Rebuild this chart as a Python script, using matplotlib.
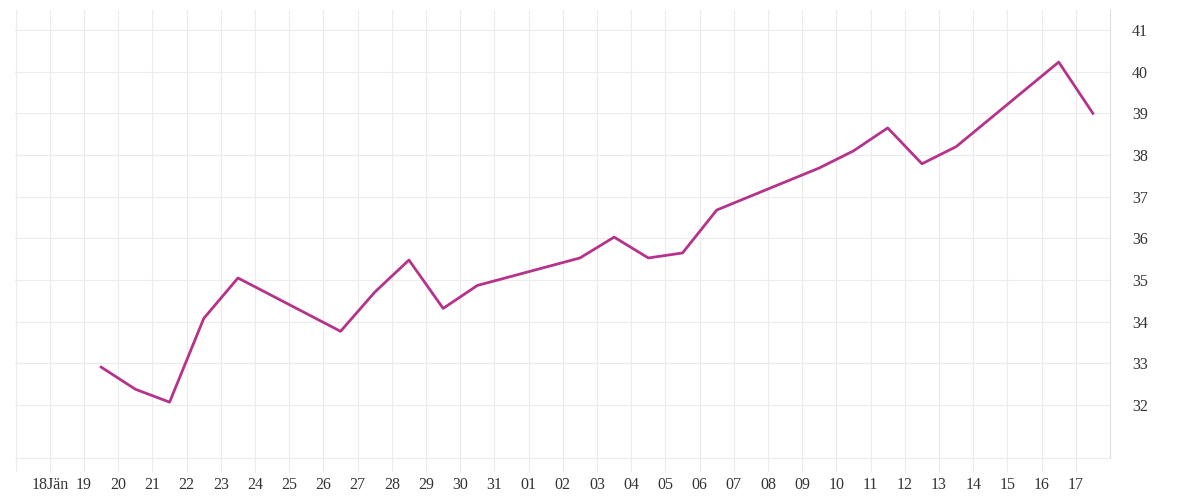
import matplotlib
matplotlib.use("Agg")
import matplotlib.pyplot as plt
import numpy as np

labels = ["18Jän","19","20","21","22","23","24","25","26","27","28","29","30","31",
          "01","02","03","04","05","06","07","08","09","10","11","12","13","14","15","16","17"]
pos = [1.5,2.5,3.5,4.5,5.5,8.5,9.5,10.5,11.5,12.5,15.5,16.5,17.5,18.5,19.5,22.5,23.5,24.5,25.5,26.5,29.5,30.5]
vals = [32.91,32.38,32.07,34.08,35.05,33.77,34.71,35.48,34.32,34.87,35.53,36.03,35.53,35.65,
        36.68,37.69,38.1,38.65,37.79,38.2,40.23,39.0]
yticks = [32,33,34,35,36,37,38,39,40,41]

plt.rcParams['font.family'] = ['Liberation Serif', 'DejaVu Serif']
fig = plt.figure(figsize=(12,5), dpi=100)
ax = fig.add_axes([15/1200, 42/500, 1095/1200, 448/500])
ax.plot(pos, vals, color='#b5338a', lw=2)
ax.set_xlim(-1.02, 31.0)
ax.set_ylim(30.73, 41.48)
ax.set_xticks([-1] + list(range(len(labels))))
ax.set_xticklabels([""] + labels)
ax.set_yticks(yticks)
ax.yaxis.tick_right()
ax.tick_params(axis='x', length=10, color='#ececec', width=0.8, labelsize=11.5, labelcolor='#333333', pad=4)
ax.tick_params(axis='y', length=0, labelsize=11.5, labelcolor='#333333', pad=16)
ax.grid(True, color='#ececec', lw=0.8)
for s in ['top','left']:
    ax.spines[s].set_visible(False)
ax.spines['bottom'].set_color('#ececec')
ax.spines['right'].set_color('#dddddd')
fig.savefig('out.png')
